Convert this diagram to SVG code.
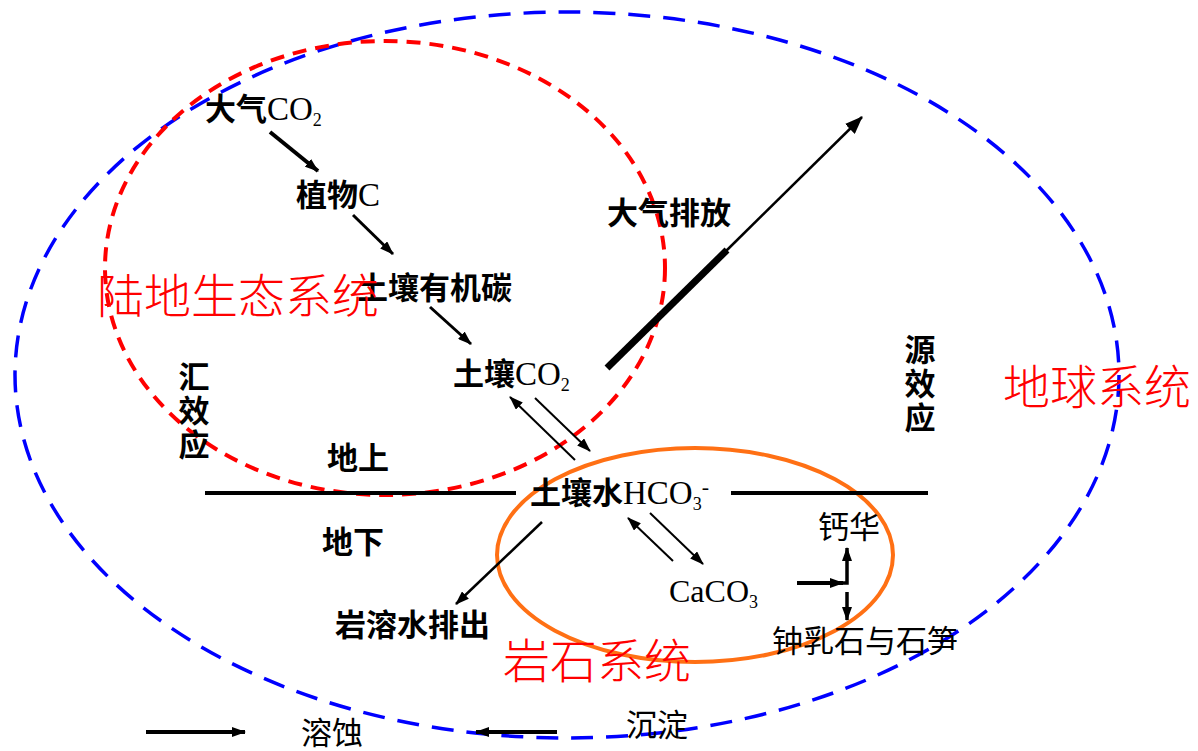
<svg xmlns="http://www.w3.org/2000/svg" width="1198" height="751" viewBox="0 0 1198 751">
<defs>
<style>
.lbl{font-family:"Liberation Serif","Noto Sans CJK SC",serif;font-size:31px;font-weight:bold;fill:#000}
.cjk{font-family:"Noto Sans CJK SC",sans-serif}
.lat{font-family:"Liberation Serif",serif;font-weight:normal}
.red{font-family:"Noto Sans CJK SC",serif;font-size:47px;fill:#ff0000;font-weight:300}
.thin{font-weight:normal}
.vt{font-family:"Noto Sans CJK SC",sans-serif;font-size:31px;font-weight:bold;fill:#000;writing-mode:vertical-rl;letter-spacing:3px}
.ln{stroke:#000;fill:none}
</style>
<marker id="ah" viewBox="0 0 14 10" refX="13" refY="5" markerWidth="14" markerHeight="10" markerUnits="userSpaceOnUse" orient="auto"><path d="M0,0 L14,5 L0,10 z" fill="#000"/></marker>
<marker id="ahb" viewBox="0 0 18 14" refX="17" refY="7" markerWidth="18" markerHeight="14" markerUnits="userSpaceOnUse" orient="auto"><path d="M0,0 L18,7 L0,14 z" fill="#000"/></marker>
</defs>
<rect width="1198" height="751" fill="#fff"/>

<g id="systems">
<ellipse id="earth-system" cx="567" cy="375" rx="552" ry="363" fill="none" stroke="#0000ff" stroke-width="3.5" stroke-dasharray="22 13"/>
<ellipse id="land-system" cx="385" cy="268" rx="280" ry="227" fill="none" stroke="#ff0000" stroke-width="4" stroke-dasharray="14 9"/>
<ellipse id="rock-system" cx="695" cy="555" rx="198" ry="107" fill="none" stroke="#ff7014" stroke-width="4"/>
</g>

<g id="ground-line" stroke="#000" stroke-width="4">
<line x1="205" y1="493" x2="516" y2="493"/>
<line x1="731" y1="493" x2="928" y2="493"/>
</g>

<g id="connectors" class="ln">
<line x1="270" y1="132" x2="318" y2="171" stroke-width="4" marker-end="url(#ah)"/>
<line x1="353" y1="215" x2="393" y2="254" stroke-width="3" marker-end="url(#ah)"/>
<line x1="430" y1="307" x2="471" y2="344" stroke-width="3" marker-end="url(#ah)"/>
<line x1="607" y1="368" x2="727" y2="250" stroke-width="7"/>
<line x1="725" y1="252" x2="862" y2="117" stroke-width="2.5" marker-end="url(#ahb)"/>
<line x1="575" y1="460" x2="510" y2="397" stroke-width="2" marker-end="url(#ah)"/>
<line x1="535" y1="398" x2="590" y2="451" stroke-width="2" marker-end="url(#ah)"/>
<line x1="542" y1="522" x2="456" y2="604" stroke-width="2.5" marker-end="url(#ah)"/>
<line x1="673" y1="561" x2="628" y2="518" stroke-width="2" marker-end="url(#ah)"/>
<line x1="650" y1="513" x2="703" y2="564" stroke-width="2" marker-end="url(#ah)"/>
<line x1="797" y1="583" x2="843" y2="583" stroke-width="4" marker-end="url(#ah)"/>
<polyline points="838,583 847,583 847,548" stroke-width="3.5" marker-end="url(#ah)"/>
<line x1="847" y1="592" x2="847" y2="620" stroke-width="3.5" marker-end="url(#ah)"/>
<line x1="146" y1="732" x2="245" y2="732" stroke-width="4" marker-end="url(#ah)"/>
<line x1="557" y1="732" x2="476" y2="732" stroke-width="4" marker-end="url(#ah)"/>
</g>

<g id="atm-co2"><text class="lbl" x="205" y="120"><tspan class="cjk">大气</tspan><tspan class="lat" font-size="33">CO</tspan><tspan class="lat" font-size="18" dy="6">2</tspan></text></g>
<g id="plant-c"><text class="lbl" x="296" y="206"><tspan class="cjk">植物</tspan><tspan class="lat" font-size="33">C</tspan></text></g>
<g id="soil-organic"><text class="lbl cjk" x="357" y="299">土壤有机碳</text></g>
<g id="soil-co2"><text class="lbl" x="453" y="385"><tspan class="cjk">土壤</tspan><tspan class="lat" font-size="33">CO</tspan><tspan class="lat" font-size="18" dy="6">2</tspan></text></g>
<g id="atm-emission"><text class="lbl cjk" x="607" y="224">大气排放</text></g>
<g id="soil-water"><text class="lbl" x="530" y="504"><tspan class="cjk">土壤水</tspan><tspan class="lat" font-size="33">HCO</tspan><tspan class="lat" font-size="18" dy="6">3</tspan><tspan class="lat" font-size="22" dy="-16">-</tspan></text></g>
<g id="above-ground"><text class="lbl cjk" x="327" y="469">地上</text></g>
<g id="under-ground"><text class="lbl cjk" x="322" y="553">地下</text></g>
<g id="karst-water"><text class="lbl cjk" x="335" y="636">岩溶水排出</text></g>
<g id="caco3"><text class="lbl" x="669" y="602"><tspan class="lat" font-size="32">CaCO</tspan><tspan class="lat" font-size="18" dy="6">3</tspan></text></g>
<g id="tufa"><text class="lbl cjk thin" x="818" y="538" font-size="21">钙华</text></g>
<g id="stalactite"><text class="lbl cjk thin" x="772" y="652" font-size="32">钟乳石与石笋</text></g>
<g id="sink-effect"><text class="vt" x="194" y="361">汇效应</text></g>
<g id="source-effect"><text class="vt" x="920" y="334">源效应</text></g>

<g id="label-land"><text class="red" x="97" y="313">陆地生态系统</text></g>
<g id="label-earth"><text class="red" x="1003" y="404">地球系统</text></g>
<g id="label-rock"><text class="red" x="503" y="678">岩石系统</text></g>

<g id="legend">
<text class="lbl cjk thin" x="301" y="744" font-size="25">溶蚀</text>
<text class="lbl cjk thin" x="626" y="736" font-size="25">沉淀</text>
</g>
</svg>
